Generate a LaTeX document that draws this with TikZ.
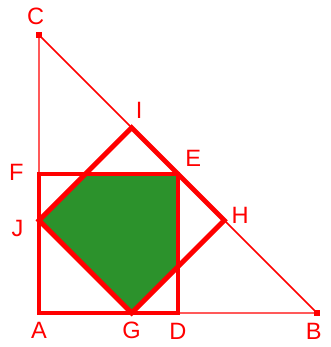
\documentclass[tikz,border=0pt]{standalone}
\usepackage{fontspec}
\setmainfont{Liberation Sans}
\definecolor{lbred}{RGB}{255,0,0}
\definecolor{fillgreen}{RGB}{44,146,44}
\definecolor{edgegreen}{RGB}{40,100,20}
\begin{document}
\begin{tikzpicture}[font=\fontsize{14.5}{17}\selectfont, line join=miter, text=lbred,
	thinline/.style={lbred, line width=0.9pt},
	thickline/.style={lbred, line width=3pt}]
			\useasboundingbox (-0.842,-0.734) rectangle (6.302,6.756);
			\coordinate (A) at (0,0);
			\coordinate (B) at (6,0);
			\coordinate (C) at (0,6);
			\coordinate (D) at (3,0);
			\coordinate (E) at (3,3);
			\coordinate (F) at (0,3);
			\coordinate (G) at (2,0);
			\coordinate (H) at (4,2);
			\coordinate (I) at (2,4);
			\coordinate (J) at (0,2);
			\coordinate (K) at (1,3);
			\coordinate (L) at (3,1);
			\filldraw[fill=fillgreen, draw=edgegreen, line width=0.8pt] (J) -- (K) -- (E) -- (L) -- (G) -- cycle;
			\draw[thinline] (A) -- (B) -- (C) -- cycle;
			\draw[thickline] (A) -- (D) -- (E) -- (F) -- cycle;
			\draw[thickline] (J) -- (G) -- (H) -- (I) -- cycle;
			\fill[lbred] (C) ++(-2pt,-2pt) rectangle ++(4pt,4pt);
			\fill[lbred] (B) ++(-2pt,-2pt) rectangle ++(4pt,4pt);
			\path (C) node[above=3pt, xshift=-2pt]{C}
				(I) node[above right, xshift=-1pt, yshift=2pt]{I}
				(E) node[above right, xshift=1pt, yshift=1pt]{E}
				(F) node[left=6pt, yshift=1pt]{F}
				(J) node[left=6pt, yshift=-5pt]{J}
				(H) node[right=1pt, yshift=3pt]{H}
				(A) node[below=2pt]{A}
				(G) node[below=2pt]{G}
				(D) node[below=3pt]{D}
				(B) node[below=3pt, xshift=-2pt]{B};
		\end{tikzpicture}
\end{document}
